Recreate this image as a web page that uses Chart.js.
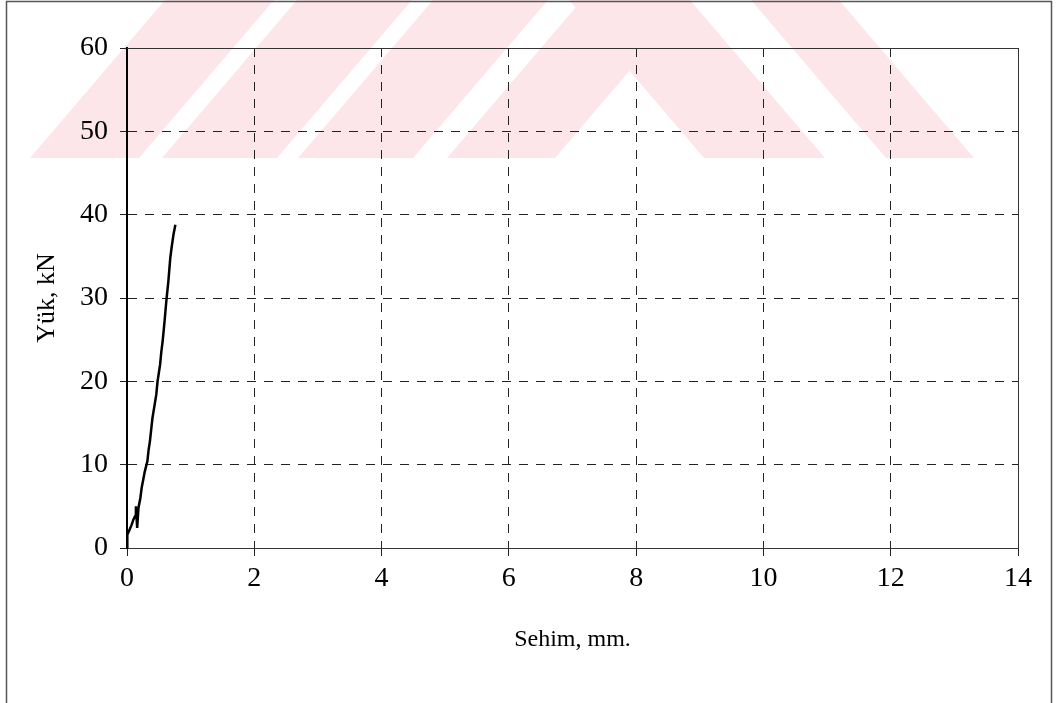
<!DOCTYPE html>
<html>
<head>
<meta charset="utf-8">
<title>Yük - Sehim</title>
<script src="https://cdn.jsdelivr.net/npm/chart.js@4.4.1/dist/chart.umd.min.js"></script>
<style>
    html, body { margin: 0; padding: 0; background: #ffffff; }
    #wrap { position: relative; width: 1058px; height: 703px; }
</style>
</head>
<body>
<div id="wrap"><canvas id="yukSehimChart"></canvas></div>
<script>
// Sehim (mm) and load (kN) readings
const sehim = [0, 0.005, 0.04, 0.074, 0.10, 0.126, 0.14, 0.16, 0.18, 0.21, 0.23, 0.26, 0.28, 0.32, 0.34, 0.36, 0.38, 0.40, 0.43, 0.46, 0.48, 0.50, 0.52, 0.54, 0.56, 0.59, 0.62, 0.65, 0.68, 0.70, 0.73, 0.76];
const yuk    = [0, 1.6, 2.2, 2.8, 3.4, 3.8, 5.0, 2.4, 4.8, 6.0, 7.2, 8.4, 9.2, 10.4, 11.8, 12.8, 14.2, 15.6, 17.0, 18.4, 20.0, 21.0, 22.0, 23.6, 24.8, 27.2, 29.8, 32.0, 34.8, 36.0, 37.6, 38.8];

const xTicks = [0, 2, 4, 6, 8, 10, 12, 14];
const yTicks = [0, 10, 20, 30, 40, 50, 60];

const serif = "'Liberation Serif', 'Times New Roman', serif";

// Faint pink stripes behind the chart, plus the outer frame and plot frame
const decorPlugin = {
    id: 'decor',
    beforeDraw(chart) {
        const ctx = chart.ctx;
        const yb = 158, yt = 0, shift = 135;
        const upRight = [[30, 139], [162, 277], [298, 413], [447, 555]];
        const upLeft = [[704, 825], [886, 974]];
        ctx.save();
        ctx.fillStyle = '#fde6ea';
        upRight.forEach(([a, b]) => {
            ctx.beginPath();
            ctx.moveTo(a, yb); ctx.lineTo(b, yb);
            ctx.lineTo(b + shift, yt); ctx.lineTo(a + shift, yt);
            ctx.closePath(); ctx.fill();
        });
        upLeft.forEach(([a, b]) => {
            ctx.beginPath();
            ctx.moveTo(a, yb); ctx.lineTo(b, yb);
            ctx.lineTo(b - shift, yt); ctx.lineTo(a - shift, yt);
            ctx.closePath(); ctx.fill();
        });
        ctx.restore();
    },
    afterDraw(chart) {
        const ctx = chart.ctx;
        const a = chart.chartArea;
        ctx.save();
        ctx.strokeStyle = '#555555';
        ctx.lineWidth = 1.5;
        ctx.strokeRect(6.5, 1.5, 1045, 710);
        ctx.strokeStyle = '#333333';
        ctx.lineWidth = 1;
        ctx.beginPath();
        ctx.moveTo(a.left, a.top + 0.5);
        ctx.lineTo(a.right + 0.5, a.top + 0.5);
        ctx.lineTo(a.right + 0.5, a.bottom);
        ctx.stroke();
        ctx.restore();
    }
};

new Chart(document.getElementById('yukSehimChart'), {
    type: 'line',
    data: {
        datasets: [{
            label: 'Yük',
            data: sehim.map((x, i) => ({ x: x, y: yuk[i] })),
            borderColor: '#000000',
            borderWidth: 2.5,
            pointRadius: 0,
            tension: 0,
            fill: false
        }]
    },
    options: {
        responsive: true,
        maintainAspectRatio: false,
        animation: false,
        layout: {
            padding: { left: 7, right: 40, top: 48, bottom: 0 }
        },
        plugins: {
            legend: { display: false },
            tooltip: { enabled: false }
        },
        scales: {
            x: {
                type: 'linear',
                min: xTicks[0],
                max: xTicks[xTicks.length - 1],
                afterBuildTicks: (scale) => { scale.ticks = xTicks.map(v => ({ value: v })); },
                afterFit: (scale) => { scale.height = 155; },
                ticks: {
                    color: '#000000',
                    padding: 6,
                    font: { family: serif, size: 28 }
                },
                grid: {
                    color: '#222222',
                    lineWidth: 1,
                    tickLength: 8,
                    tickColor: '#222222',
                    tickBorderDash: []
                },
                border: {
                    display: true,
                    color: '#333333',
                    width: 1,
                    dash: [9, 8]
                },
                title: {
                    display: true,
                    text: 'Sehim, mm.',
                    color: '#000000',
                    font: { family: serif, size: 24 },
                    padding: { top: 0, bottom: 49 }
                }
            },
            y: {
                type: 'linear',
                min: yTicks[0],
                max: yTicks[yTicks.length - 1],
                afterBuildTicks: (scale) => { scale.ticks = yTicks.map(v => ({ value: v })); },
                afterFit: (scale) => { scale.width = 120; },
                ticks: {
                    color: '#000000',
                    padding: 12,
                    font: { family: serif, size: 28 }
                },
                grid: {
                    color: '#222222',
                    lineWidth: 1,
                    tickLength: 7,
                    tickColor: '#222222',
                    tickBorderDash: []
                },
                border: {
                    display: true,
                    color: '#000000',
                    width: 2,
                    dash: [9, 8]
                },
                title: {
                    display: true,
                    text: 'Yük, kN',
                    color: '#000000',
                    font: { family: serif, size: 26 },
                    padding: { top: 25, bottom: 0 }
                }
            }
        }
    },
    plugins: [decorPlugin]
});
</script>
</body>
</html>
